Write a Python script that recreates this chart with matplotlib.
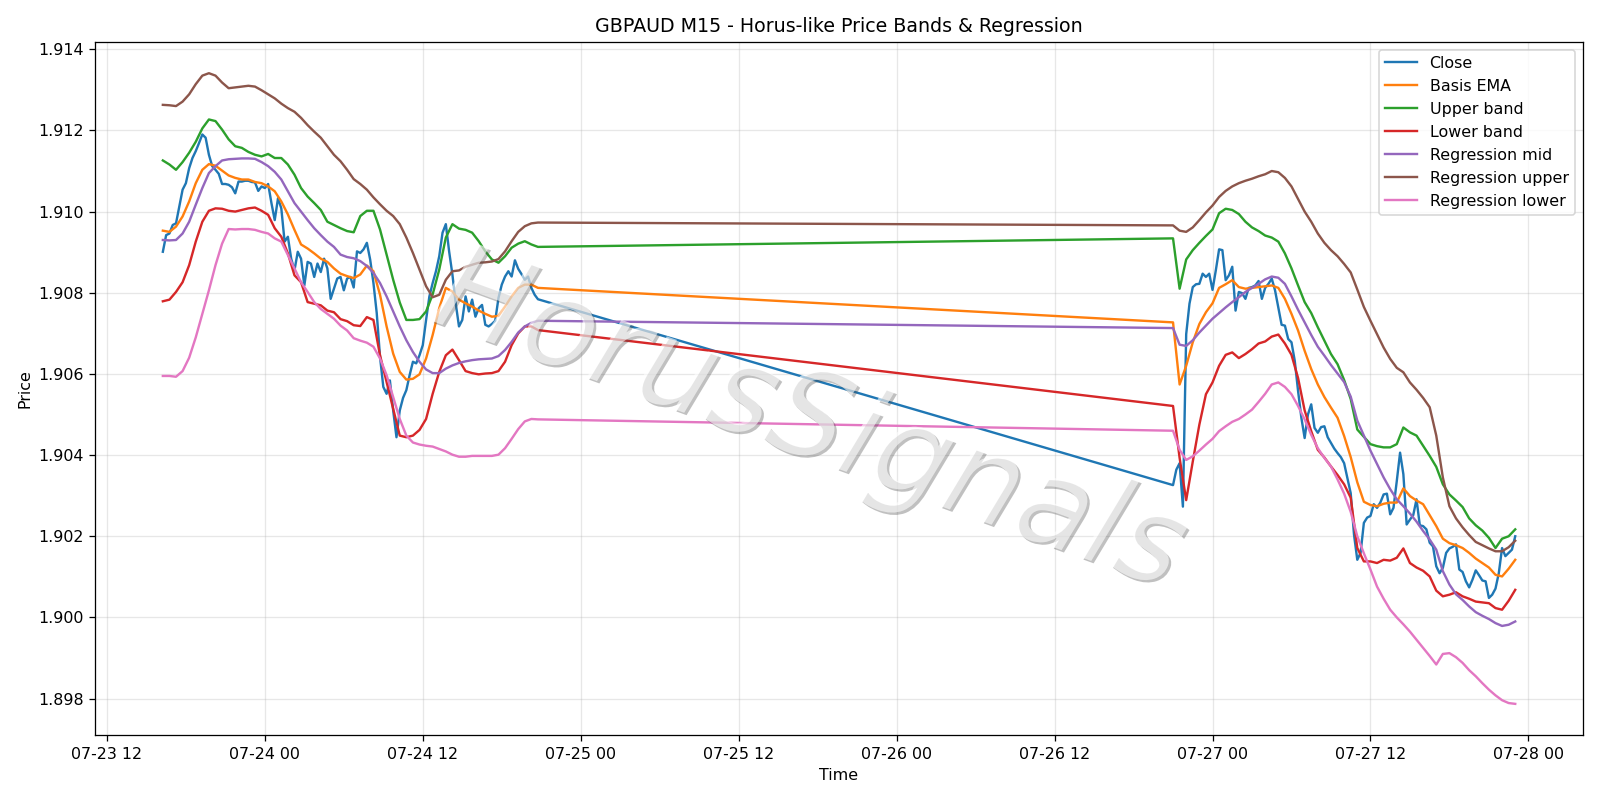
import matplotlib
matplotlib.use("Agg")
import matplotlib.pyplot as plt
import matplotlib.dates as mdates
import matplotlib.patheffects as pe
import pandas as pd

# M15 closes, friday session then sunday/monday session (weekend gap in between)
close_fri = [
    1.90901, 1.90942, 1.90946, 1.90967, 1.90971, 1.91012, 1.91054, 1.91070, 1.91107, 1.91132,
    1.91149, 1.91169, 1.91190, 1.91182, 1.91140, 1.91112, 1.91103, 1.91093, 1.91068, 1.91068,
    1.91066, 1.91060, 1.91045, 1.91074, 1.91074, 1.91076, 1.91076, 1.91073, 1.91072, 1.91051,
    1.91062, 1.91058, 1.91068, 1.91021, 1.90979, 1.91033, 1.91008, 1.90926, 1.90938, 1.90884,
    1.90855, 1.90901, 1.90884, 1.90818, 1.90876, 1.90872, 1.90839, 1.90872, 1.90851, 1.90884,
    1.90860, 1.90785, 1.90810, 1.90835, 1.90839, 1.90806, 1.90835, 1.90839, 1.90813,
    1.90902, 1.90898, 1.90907, 1.90923, 1.90882, 1.90824, 1.90750, 1.90642, 1.90568, 1.90551,
    1.90584, 1.90510, 1.90444, 1.90510, 1.90541, 1.90560, 1.90597, 1.90630, 1.90626, 1.90646,
    1.90671, 1.90733, 1.90791, 1.90824, 1.90853, 1.90890, 1.90948, 1.90969, 1.90902, 1.90845,
    1.90774, 1.90717, 1.90733, 1.90791, 1.90754, 1.90783, 1.90741, 1.90762, 1.90770, 1.90721,
    1.90717, 1.90723, 1.90731, 1.90787, 1.90820, 1.90840, 1.90853, 1.90840, 1.90880, 1.90859,
    1.90846, 1.90832, 1.90840, 1.90812, 1.90795, 1.90784,
]
close_mon = [
    1.90326, 1.90364, 1.90380, 1.90273, 1.90698, 1.90773, 1.90814, 1.90821, 1.90822, 1.90847,
    1.90839, 1.90847, 1.90807, 1.90855, 1.90907, 1.90905, 1.90831, 1.90843, 1.90864, 1.90756,
    1.90802, 1.90799, 1.90785, 1.90812, 1.90814, 1.90818, 1.90829, 1.90785, 1.90812, 1.90822,
    1.90835, 1.90806, 1.90764, 1.90721, 1.90719, 1.90686, 1.90678, 1.90632, 1.90558, 1.90492,
    1.90442, 1.90500, 1.90525, 1.90467, 1.90455, 1.90469, 1.90471, 1.90444, 1.90430, 1.90416,
    1.90405, 1.90395, 1.90380, 1.90343, 1.90306, 1.90204, 1.90142, 1.90159, 1.90233, 1.90246,
    1.90250, 1.90279, 1.90270, 1.90283, 1.90303, 1.90305, 1.90254, 1.90270, 1.90336, 1.90406,
    1.90353, 1.90229, 1.90241, 1.90252, 1.90291, 1.90227, 1.90225, 1.90217, 1.90184, 1.90175,
    1.90126, 1.90109, 1.90122, 1.90159, 1.90170, 1.90174, 1.90180, 1.90118, 1.90112, 1.90089,
    1.90074, 1.90093, 1.90116, 1.90104, 1.90091, 1.90089, 1.90048, 1.90056, 1.90071, 1.90109,
    1.90171, 1.90151, 1.90159, 1.90167, 1.90200,
]

# bands, sampled every 30 minutes
basis_fri = [
    1.90953, 1.90950, 1.90963, 1.90988, 1.91025, 1.91070, 1.91103, 1.91117, 1.91113, 1.91101,
    1.91089, 1.91083, 1.91079, 1.91079, 1.91073, 1.91070, 1.91062, 1.91050, 1.91025, 1.90993,
    1.90955, 1.90919, 1.90909, 1.90897, 1.90884, 1.90876, 1.90860, 1.90847, 1.90841,
    1.90836, 1.90845, 1.90867, 1.90853, 1.90795, 1.90717, 1.90650, 1.90605, 1.90586, 1.90588,
    1.90599, 1.90638, 1.90696, 1.90762, 1.90812, 1.90803, 1.90783, 1.90774, 1.90766, 1.90756,
    1.90748, 1.90741, 1.90743, 1.90766, 1.90791, 1.90812, 1.90820, 1.90820, 1.90812,
]
basis_mon = [
    1.90727, 1.90574, 1.90620, 1.90678, 1.90723, 1.90752, 1.90774, 1.90812, 1.90821, 1.90831,
    1.90814, 1.90810, 1.90812, 1.90814, 1.90816, 1.90818, 1.90812, 1.90785, 1.90748, 1.90707,
    1.90657, 1.90612, 1.90574, 1.90543, 1.90517, 1.90492,
    1.90447, 1.90395, 1.90333, 1.90285, 1.90277, 1.90274, 1.90280, 1.90283, 1.90283, 1.90318,
    1.90299, 1.90288, 1.90279, 1.90252, 1.90225, 1.90194, 1.90183, 1.90178, 1.90171, 1.90159,
    1.90145, 1.90134, 1.90123, 1.90105, 1.90101, 1.90120, 1.90142,
]
upper_fri = [
    1.91126, 1.91116, 1.91103, 1.91122, 1.91145, 1.91172, 1.91205, 1.91227, 1.91223, 1.91202,
    1.91178, 1.91161, 1.91157, 1.91147, 1.91140, 1.91136, 1.91142, 1.91132, 1.91132, 1.91116,
    1.91091, 1.91058, 1.91037, 1.91021, 1.91004, 1.90975, 1.90967, 1.90959, 1.90952,
    1.90949, 1.90989, 1.91002, 1.91002, 1.90956, 1.90894, 1.90832, 1.90776, 1.90733, 1.90733,
    1.90735, 1.90754, 1.90796, 1.90857, 1.90936, 1.90969, 1.90958, 1.90955, 1.90948, 1.90927,
    1.90902, 1.90882, 1.90874, 1.90890, 1.90911, 1.90921, 1.90927, 1.90919, 1.90913,
]
upper_mon = [
    1.90934, 1.90810, 1.90882, 1.90905, 1.90923, 1.90940, 1.90956, 1.90996, 1.91007, 1.91004,
    1.90994, 1.90975, 1.90961, 1.90952, 1.90941, 1.90936, 1.90926, 1.90897, 1.90860, 1.90818,
    1.90777, 1.90750, 1.90715, 1.90682, 1.90649, 1.90624,
    1.90585, 1.90538, 1.90463, 1.90445, 1.90427, 1.90422, 1.90419, 1.90419, 1.90427, 1.90468,
    1.90456, 1.90448, 1.90423, 1.90398, 1.90371, 1.90328, 1.90303, 1.90288, 1.90272, 1.90244,
    1.90227, 1.90214, 1.90196, 1.90171, 1.90194, 1.90200, 1.90217,
]
lower_fri = [
    1.90779, 1.90783, 1.90802, 1.90826, 1.90868, 1.90926, 1.90975, 1.91002, 1.91008, 1.91007,
    1.91002, 1.91000, 1.91004, 1.91008, 1.91010, 1.91002, 1.90992, 1.90959, 1.90938, 1.90897,
    1.90843, 1.90826, 1.90777, 1.90773, 1.90769, 1.90756, 1.90752, 1.90735, 1.90730,
    1.90720, 1.90718, 1.90740, 1.90733, 1.90646, 1.90580, 1.90514, 1.90448, 1.90444, 1.90448,
    1.90462, 1.90489, 1.90551, 1.90605, 1.90646, 1.90660, 1.90634, 1.90607, 1.90602, 1.90599,
    1.90601, 1.90602, 1.90607, 1.90630, 1.90671, 1.90700, 1.90717, 1.90717, 1.90708,
]
lower_mon = [
    1.90521, 1.90393, 1.90289, 1.90384, 1.90475, 1.90550, 1.90579, 1.90620, 1.90647, 1.90653,
    1.90639, 1.90649, 1.90661, 1.90675, 1.90680, 1.90692, 1.90697, 1.90675, 1.90647, 1.90590,
    1.90510, 1.90459, 1.90413, 1.90394, 1.90372, 1.90351,
    1.90328, 1.90295, 1.90171, 1.90138, 1.90138, 1.90134, 1.90142, 1.90140, 1.90147, 1.90170,
    1.90134, 1.90123, 1.90115, 1.90101, 1.90066, 1.90052, 1.90056, 1.90062, 1.90052, 1.90046,
    1.90039, 1.90037, 1.90035, 1.90023, 1.90019, 1.90041, 1.90068,
]
reg_mid_fri = [
    1.90930, 1.90929, 1.90930, 1.90946, 1.90975, 1.91017, 1.91058, 1.91095, 1.91112, 1.91126,
    1.91129, 1.91130, 1.91131, 1.91131, 1.91130, 1.91122, 1.91112, 1.91098, 1.91079, 1.91050,
    1.91021, 1.91000, 1.90979, 1.90959, 1.90942, 1.90926, 1.90913, 1.90894, 1.90888,
    1.90885, 1.90878, 1.90866, 1.90849, 1.90824, 1.90791, 1.90754, 1.90717, 1.90683, 1.90654,
    1.90630, 1.90611, 1.90602, 1.90602, 1.90613, 1.90621, 1.90627, 1.90631, 1.90634, 1.90636,
    1.90637, 1.90638, 1.90644, 1.90659, 1.90679, 1.90702, 1.90717, 1.90726, 1.90731,
]
reg_mid_mon = [
    1.90713, 1.90672, 1.90669, 1.90683, 1.90702, 1.90719, 1.90736, 1.90750, 1.90764, 1.90777,
    1.90789, 1.90802, 1.90812, 1.90822, 1.90833, 1.90840, 1.90837, 1.90822, 1.90791, 1.90758,
    1.90727, 1.90696, 1.90667, 1.90645, 1.90622, 1.90601,
    1.90580, 1.90544, 1.90485, 1.90448, 1.90411, 1.90378, 1.90345, 1.90316, 1.90291, 1.90274,
    1.90256, 1.90236, 1.90213, 1.90192, 1.90167, 1.90114, 1.90081, 1.90057, 1.90043, 1.90027,
    1.90013, 1.90004, 1.89996, 1.89986, 1.89979, 1.89982, 1.89990,
]
reg_up_fri = [
    1.91263, 1.91262, 1.91260, 1.91271, 1.91289, 1.91314, 1.91335, 1.91341, 1.91335, 1.91318,
    1.91304, 1.91306, 1.91308, 1.91310, 1.91308, 1.91299, 1.91289, 1.91279, 1.91266, 1.91255,
    1.91246, 1.91231, 1.91213, 1.91197, 1.91182, 1.91161, 1.91140, 1.91124, 1.91103,
    1.91080, 1.91068, 1.91054, 1.91035, 1.91018, 1.91002, 1.90989, 1.90969, 1.90936, 1.90898,
    1.90857, 1.90816, 1.90789, 1.90795, 1.90832, 1.90853, 1.90855, 1.90864, 1.90869, 1.90874,
    1.90875, 1.90877, 1.90883, 1.90902, 1.90927, 1.90950, 1.90964, 1.90971, 1.90973,
]
reg_up_mon = [
    1.90966, 1.90953, 1.90950, 1.90961, 1.90979, 1.90998, 1.91015, 1.91036, 1.91051, 1.91062,
    1.91070, 1.91076, 1.91081, 1.91087, 1.91092, 1.91100, 1.91097, 1.91083, 1.91062, 1.91031,
    1.91000, 1.90975, 1.90946, 1.90923, 1.90905, 1.90890,
    1.90871, 1.90850, 1.90808, 1.90765, 1.90731, 1.90698, 1.90665, 1.90637, 1.90615, 1.90604,
    1.90579, 1.90561, 1.90541, 1.90518, 1.90448, 1.90345, 1.90274, 1.90244, 1.90222, 1.90203,
    1.90186, 1.90178, 1.90170, 1.90163, 1.90163, 1.90173, 1.90189,
]
reg_low_fri = [
    1.90595, 1.90595, 1.90593, 1.90607, 1.90640, 1.90690, 1.90748, 1.90806, 1.90868, 1.90921,
    1.90957, 1.90956, 1.90957, 1.90957, 1.90955, 1.90950, 1.90946, 1.90934, 1.90926, 1.90893,
    1.90860, 1.90826, 1.90802, 1.90777, 1.90760, 1.90748, 1.90736, 1.90719, 1.90707,
    1.90688, 1.90682, 1.90677, 1.90667, 1.90638, 1.90597, 1.90543, 1.90489, 1.90448, 1.90431,
    1.90426, 1.90423, 1.90421, 1.90415, 1.90409, 1.90401, 1.90396, 1.90396, 1.90398, 1.90398,
    1.90398, 1.90398, 1.90401, 1.90417, 1.90440, 1.90464, 1.90483, 1.90489, 1.90488,
]
reg_low_mon = [
    1.90460, 1.90413, 1.90388, 1.90397, 1.90411, 1.90426, 1.90440, 1.90459, 1.90471, 1.90482,
    1.90489, 1.90500, 1.90512, 1.90531, 1.90551, 1.90574, 1.90579, 1.90568, 1.90550, 1.90521,
    1.90488, 1.90450, 1.90417, 1.90393, 1.90372, 1.90340,
    1.90305, 1.90260, 1.90200, 1.90158, 1.90118, 1.90076, 1.90046, 1.90019, 1.90000, 1.89983,
    1.89965, 1.89945, 1.89925, 1.89905, 1.89884, 1.89910, 1.89912, 1.89902, 1.89888, 1.89870,
    1.89855, 1.89838, 1.89822, 1.89808, 1.89796, 1.89789, 1.89787,
]


def main() -> None:
    # time axes for the two sessions
    t_close = pd.date_range("2020-07-23 16:15", "2020-07-24 20:45", freq="15min").append(
        pd.date_range("2020-07-26 21:00", "2020-07-27 23:00", freq="15min")
    )
    t_band = pd.date_range("2020-07-23 16:15", "2020-07-24 20:45", freq="30min").append(
        pd.date_range("2020-07-26 21:00", "2020-07-27 23:00", freq="30min")
    )

    series = [
        ("Basis EMA", basis_fri + basis_mon),
        ("Upper band", upper_fri + upper_mon),
        ("Lower band", lower_fri + lower_mon),
        ("Regression mid", reg_mid_fri + reg_mid_mon),
        ("Regression upper", reg_up_fri + reg_up_mon),
        ("Regression lower", reg_low_fri + reg_low_mon),
    ]

    fig, ax = plt.subplots(figsize=(14, 7), dpi=1600 / 14)
    ax.plot(t_close, close_fri + close_mon, label="Close", linewidth=1.5)
    for name, values in series:
        ax.plot(t_band, values, label=name, linewidth=1.5)

    ax.set_title("GBPAUD M15 - Horus-like Price Bands & Regression")
    ax.set_xlabel("Time")
    ax.set_ylabel("Price")
    ax.grid(True, alpha=0.3)
    ax.legend(loc="upper right")

    ax.xaxis.set_major_locator(mdates.HourLocator(byhour=[0, 12]))
    ax.xaxis.set_major_formatter(mdates.DateFormatter("%m-%d %H"))

    # watermark
    ax.text(
        0.48, 0.45, "HorusSignals",
        transform=ax.transAxes,
        ha="center", va="center",
        rotation=-20,
        fontsize=76,
        style="italic",
        color="white",
        alpha=0.6,
        zorder=10,
        path_effects=[
            pe.withSimplePatchShadow(offset=(1.5, -1.5), shadow_rgbFace="0.3", alpha=0.35)
        ],
    )

    plt.tight_layout()
    fig.savefig("out.png")


if __name__ == "__main__":
    main()
